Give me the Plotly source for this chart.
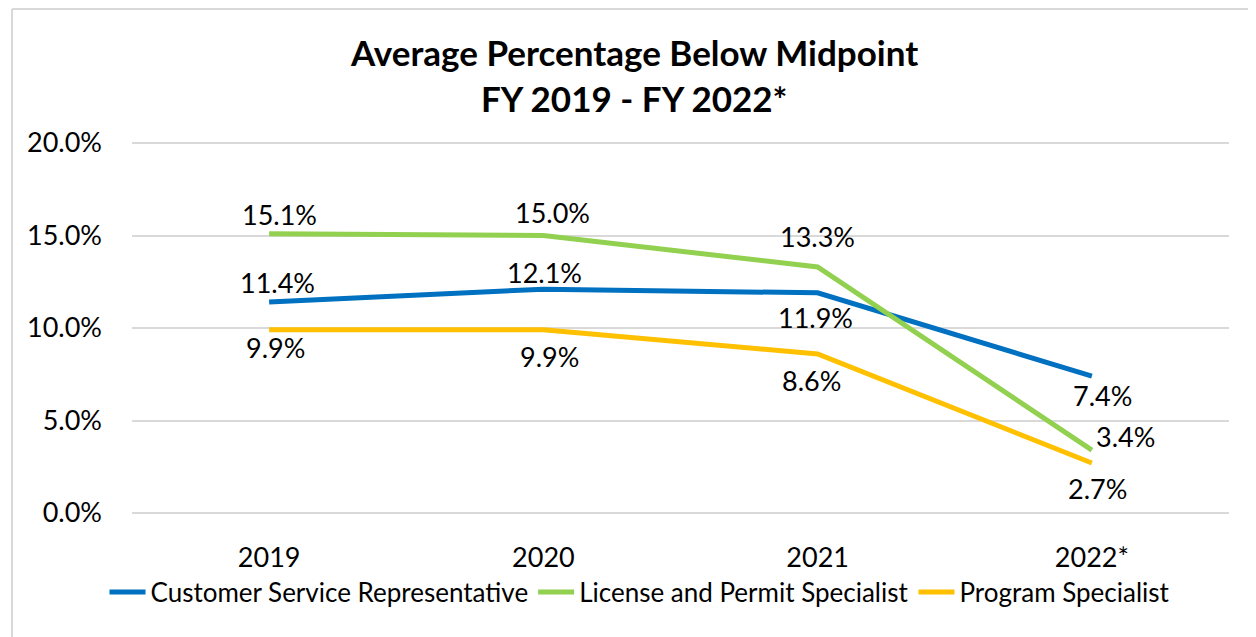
import plotly.graph_objects as go

years = ["2019", "2020", "2021", "2022*"]
csr = [11.4, 12.1, 11.9, 7.4]
lps = [15.1, 15.0, 13.3, 3.4]
ps = [9.9, 9.9, 8.6, 2.7]
series_names = ["Customer Service Representative", "License and Permit Specialist", "Program Specialist"]
y_ticks = [0, 5, 10, 15, 20]
title_lines = ["Average Percentage Below Midpoint", "FY 2019 - FY 2022*"]

series = [csr, lps, ps]
colors = ["#0070C0", "#92D050", "#FFC000"]
# label offsets (pixels) per series/point, like the spreadsheet's label placement
label_offsets = [
    [(8, 20), (1, 17), (-2, -25), (11, -19)],
    [(10, 19), (9, 23), (0, 30), (34, 14)],
    [(6, -18), (6, -27), (-6, -27), (6, -25)],
]

FONT = "Lato, Carlito, Calibri, sans-serif"
FS = 27

# page body has an 8px margin; compensate so the figure lands like the reference
W, H = 1256, 637
PAD = 4  # small headroom above the 20% gridline so it is drawn
L, R, T, B = 124, 35, 135 - PAD, 132
PW, PH = W - L - R, H - T - B
OFF = 8
Y_TOP = 20 * PH / (PH - PAD)


def py(screen_y):
    """screen y pixel -> paper y"""
    return (T + PH - (screen_y - OFF)) / PH


def px(screen_x):
    return (screen_x - OFF - L) / PW


fig = go.Figure()
for name, vals, col in zip(series_names, series, colors):
    fig.add_trace(go.Scatter(
        x=list(range(len(years))), y=vals, name=name, mode="lines",
        line=dict(color=col, width=5), hoverinfo="skip"))

annotations = []
for vals, offs in zip(series, label_offsets):
    for i, (yv, (dx, dy)) in enumerate(zip(vals, offs)):
        annotations.append(dict(x=i, y=yv, xref="x", yref="y", text=f"{yv:.1f}%",
                                showarrow=False, xshift=dx, yshift=dy,
                                font=dict(family=FONT, size=FS, color="#000000")))

for line, sy in zip(title_lines, [52, 98]):
    annotations.append(dict(x=px(634), y=py(sy), xref="paper", yref="paper",
                            xanchor="center", yanchor="middle", showarrow=False,
                            text=f"<b>{line}</b>",
                            font=dict(family=FONT, size=35, color="#000000")))

fig.update_layout(
    width=W, height=H,
    margin=dict(l=L, r=R, t=T, b=B, autoexpand=False),
    paper_bgcolor="white", plot_bgcolor="white",
    font=dict(family=FONT, size=FS, color="#000000"),
    xaxis=dict(range=[-0.5, 3.5], tickmode="array", tickvals=list(range(len(years))),
               ticktext=years, tickangle=0, showgrid=False, showline=False,
               zeroline=False, ticks="", ticklabelstandoff=26,
               tickfont=dict(family=FONT, size=FS)),
    yaxis=dict(range=[0, Y_TOP], tickmode="array", tickvals=y_ticks,
               ticktext=[f"{v:.1f}%" for v in y_ticks],
               showgrid=True, gridcolor="#D9D9D9", gridwidth=1.5,
               zeroline=True, zerolinecolor="#D9D9D9", zerolinewidth=1.5,
               showline=False, ticks="", ticklabelstandoff=29,
               tickfont=dict(family=FONT, size=FS)),
    legend=dict(orientation="h", x=px(640), xanchor="center",
                y=py(592), yanchor="middle",
                font=dict(family=FONT, size=26), traceorder="normal", itemwidth=36),
    annotations=annotations,
)
# outer chart frame (light gray)
fx = px(12)
fy = py(9)
fig.add_shape(type="line", xref="paper", yref="paper", x0=fx, x1=fx, y0=-1, y1=fy,
              line=dict(color="#D9D9D9", width=2))
fig.add_shape(type="line", xref="paper", yref="paper", x0=fx, x1=1.2, y0=fy, y1=fy,
              line=dict(color="#D9D9D9", width=2))

fig.write_html("out.html")
